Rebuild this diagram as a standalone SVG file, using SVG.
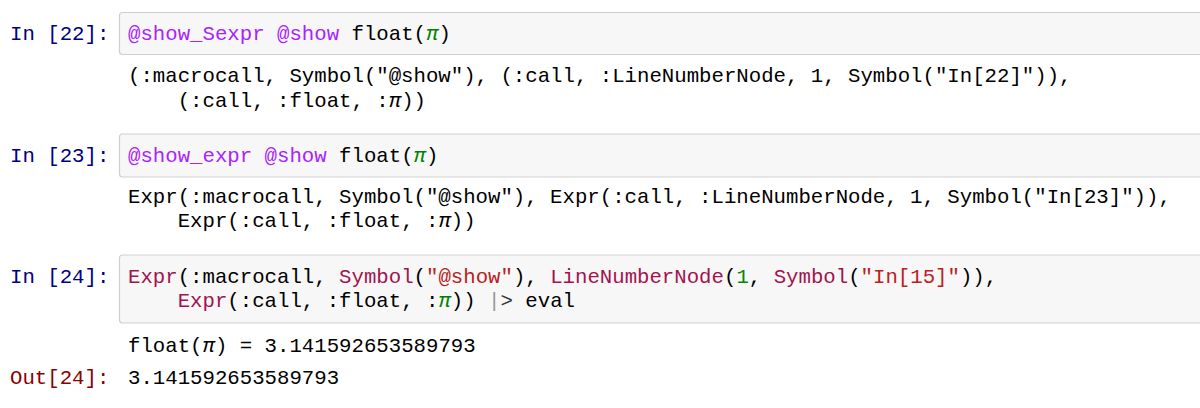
<svg xmlns="http://www.w3.org/2000/svg" width="1200" height="408" viewBox="0 0 1200 408" xml:space="preserve">
<style>
text { font-family: "Liberation Mono", "DejaVu Sans Mono", monospace; font-size: 20.7px; fill: #000; white-space: pre; }
.box { fill: #f7f7f7; stroke: #cfcfcf; stroke-width: 1.2; }
.in { fill: #000080; }
.out { fill: #8b0000; }
.mac { fill: #aa22ff; }
.pi { fill: #008000; font-style: italic; }
.ipi { font-style: italic; }
.ty { fill: #a2134f; }
.str { fill: #ba2121; }
.num { fill: #008800; }
.op { fill: #999999; }
.op2 { fill: #333333; }
</style>
<rect width="1200" height="408" fill="#ffffff"/>
<g id="cell22">
<rect class="box" x="119.5" y="12.5" width="1100" height="42" rx="3"/>
<text class="in" x="10" y="40">In [22]:</text>
<text x="128" y="40"><tspan class="mac">@show_Sexpr</tspan> <tspan class="mac">@show</tspan> float(<tspan class="pi">π</tspan>)</text>
<text x="128" y="82">(:macrocall, Symbol("@show"), (:call, :LineNumberNode, 1, Symbol("In[22]")),</text>
<text x="177.7" y="107">(:call, :float, :<tspan class="ipi">π</tspan>))</text>
</g>
<g id="cell23">
<rect class="box" x="119.5" y="134" width="1100" height="43" rx="3"/>
<text class="in" x="10" y="161.5">In [23]:</text>
<text x="128" y="161.5"><tspan class="mac">@show_expr</tspan> <tspan class="mac">@show</tspan> float(<tspan class="pi">π</tspan>)</text>
<text x="128" y="202.5">Expr(:macrocall, Symbol("@show"), Expr(:call, :LineNumberNode, 1, Symbol("In[23]")),</text>
<text x="177.7" y="226.5">Expr(:call, :float, :<tspan class="ipi">π</tspan>))</text>
</g>
<g id="cell24">
<rect class="box" x="119.5" y="255" width="1100" height="68" rx="3"/>
<text class="in" x="10" y="282.5">In [24]:</text>
<text x="128" y="282.5"><tspan class="ty">Expr</tspan>(:macrocall, <tspan class="ty">Symbol</tspan>(<tspan class="str">"@show"</tspan>), <tspan class="ty">LineNumberNode</tspan>(<tspan class="num">1</tspan>, <tspan class="ty">Symbol</tspan>(<tspan class="str">"In[15]"</tspan>)),</text>
<text x="177.7" y="307"><tspan class="ty">Expr</tspan>(:call, :float, :<tspan class="pi">π</tspan>)) <tspan class="op">|</tspan><tspan class="op2">&gt;</tspan> eval</text>
<text x="128" y="351.5">float(<tspan class="ipi">π</tspan>) = 3.141592653589793</text>
<text class="out" x="10" y="384">Out[24]:</text>
<text x="128" y="384">3.141592653589793</text>
</g>
</svg>
